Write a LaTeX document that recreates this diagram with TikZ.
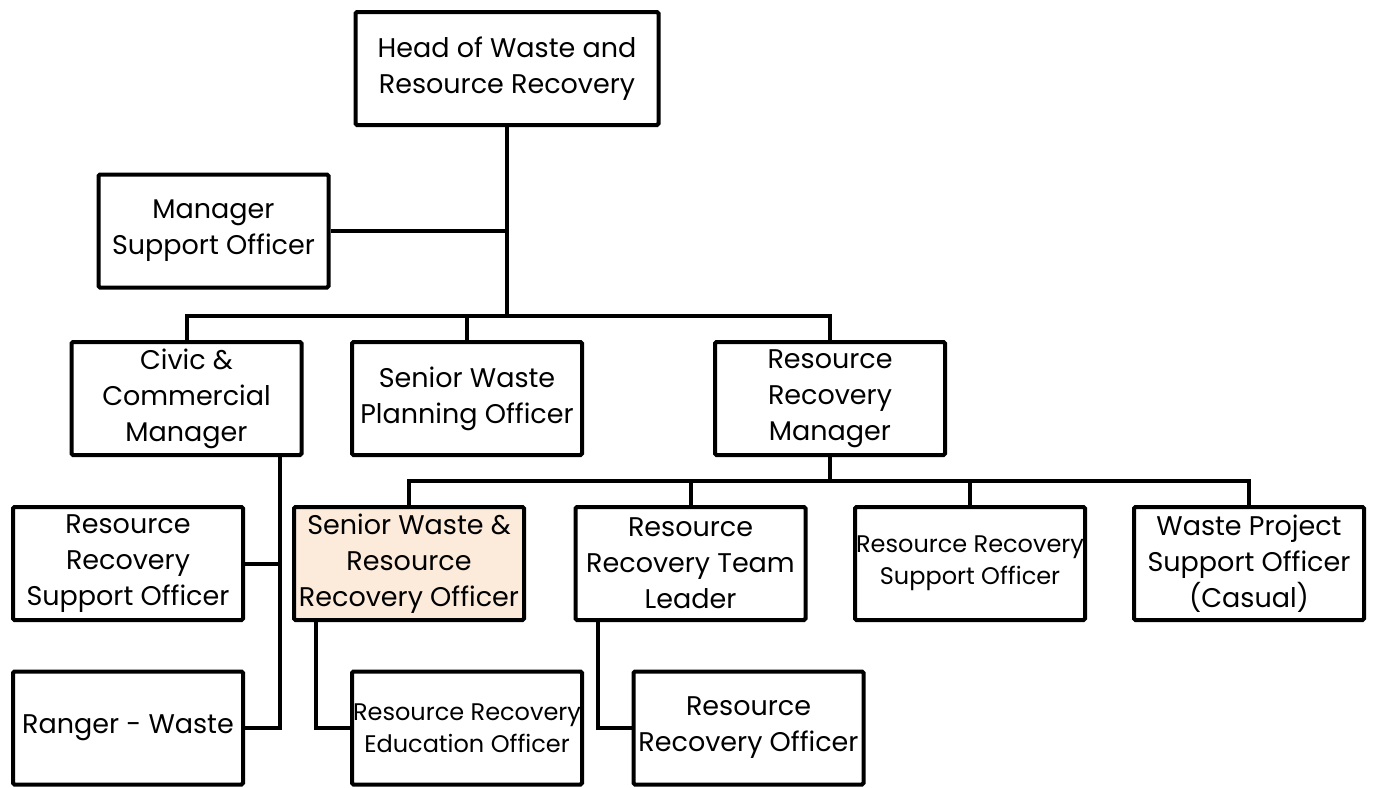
\documentclass[tikz,border=0pt]{standalone}
\usepackage{fontspec}
\setmainfont{Poppins}
\usetikzlibrary{calc}
\definecolor{peach}{HTML}{FCEADB}
\tikzset{post/.style={draw, fill=white, line width=4pt, rounded corners=1.5pt, inner sep=0pt, minimum width=230pt, minimum height=113pt, align=center, font=\fontsize{27}{36}\selectfont},
  link/.style={line width=4pt}}

\begin{document}
\begin{tikzpicture}[x=1pt, y=-1pt]
\useasboundingbox (0,0) rectangle (1375,787);

% top of the chart
\node[post, minimum width=303pt] (head) at (507,68.5) {Head of Waste and\\Resource Recovery};
\node[post] (mso) at (213.5,231) {Manager\\Support Officer};

% second row
\node[post] (civic) at (186.5,398.5) {Civic \&\\Commercial\\Manager};
\node[post] (swpo) at (467,398.5) {Senior Waste\\Planning Officer};
\node[post] (rrm) at (830,398.5) {Resource\\Recovery\\Manager};

% third row
\node[post] (rrsoA) at (128,563.5) {Resource\\Recovery\\Support Officer};
\node[post, fill=peach] (swrro) at (409,563.5) {Senior Waste \&\\Resource\\Recovery Officer};
\node[post] (leader) at (690.5,563.5) {Resource\\Recovery Team\\Leader};
\node[post, font=\fontsize{24}{32}\selectfont] (rrsoB) at (970,563.5) {Resource Recovery\\Support Officer};
\node[post] (wpso) at (1249,563.5) {Waste Project\\Support Officer\\(Casual)};

% bottom row
\node[post] (ranger) at (128,728) {Ranger - Waste};
\node[post, font=\fontsize{24}{32}\selectfont] (edu) at (467,728) {Resource Recovery\\Education Officer};
\node[post] (rro) at (748.5,728) {Resource\\Recovery Officer};

\coordinate (bar1) at (507,316);
\coordinate (bar2) at (830,481);
\coordinate (civdrop) at (280,457);

\draw[link] (head.south) -- (bar1);
\draw[link] (mso.east) -- (mso.east -| bar1);
\draw[link] (civic.north) |- (bar1) -| (rrm.north);
\draw[link] (swpo.north) -- (swpo.north |- bar1);

\draw[link] (rrm.south) -- (bar2);
\draw[link] (swrro.north) |- (bar2) -| (wpso.north);
\draw[link] (leader.north) -- (leader.north |- bar2);
\draw[link] (rrsoB.north) -- (rrsoB.north |- bar2);

\draw[link] (civdrop) |- (ranger.east);
\draw[link] (rrsoA.east) -- (rrsoA.east -| civdrop);
\draw[link] ([xshift=24pt]swrro.south west) |- (edu.west);
\draw[link] ([xshift=24pt]leader.south west) |- (rro.west);

\end{tikzpicture}
\end{document}
